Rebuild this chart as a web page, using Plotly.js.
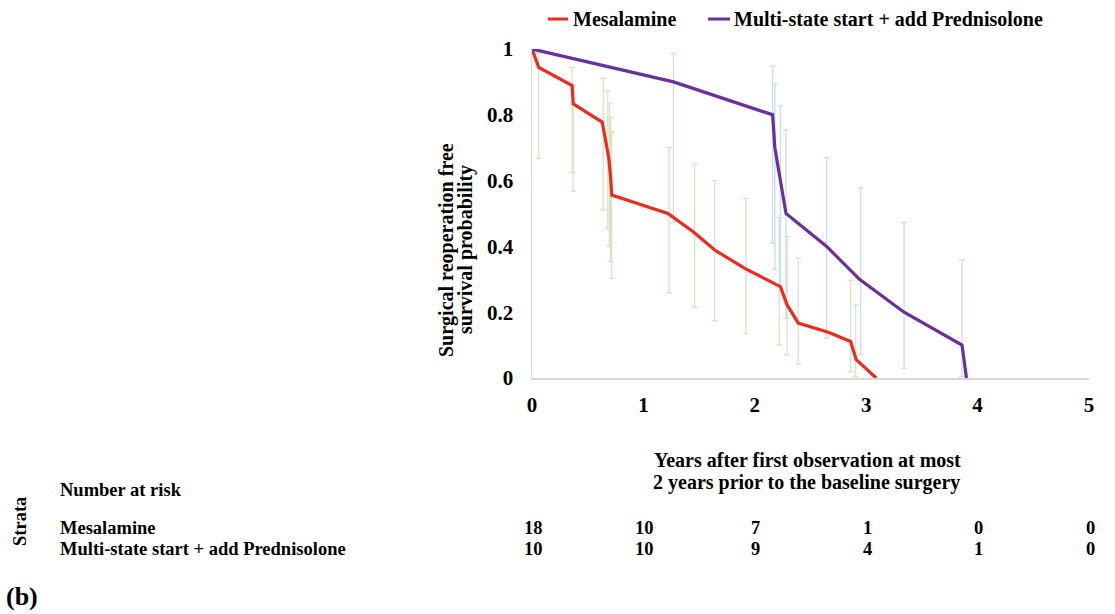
<!DOCTYPE html>
<html>
<head>
<meta charset="utf-8">
<script src="https://cdn.plot.ly/plotly-3.0.1.min.js"></script>
<style>html,body{margin:0;padding:0;background:#fff;}#chart{width:1115px;height:614px;}</style>
</head>
<body>
<div id="chart"></div>
<script>
// ---- Data ----
var seriesNames = ["Mesalamine", "Multi-state start + add Prednisolone"];

var mesX = [0, 0.06, 0.36, 0.37, 0.63, 0.69, 0.705, 0.716, 1.22, 1.45, 1.64, 1.91, 2.23, 2.29, 2.39, 2.66, 2.86, 2.91, 3.09];
var mesY = [1, 0.944, 0.889, 0.833, 0.778, 0.667, 0.611, 0.556, 0.5, 0.444, 0.389, 0.333, 0.278, 0.222, 0.167, 0.139, 0.111, 0.056, 0];

var preX = [0, 1.27, 2.16, 2.18, 2.28, 2.645, 2.94, 3.34, 3.86, 3.90];
var preY = [1, 0.9, 0.8, 0.7, 0.5, 0.4, 0.3, 0.2, 0.1, 0];

// confidence intervals
var mesCiX    = [0.06, 0.36, 0.37, 0.64, 0.68, 0.695, 0.705, 0.715, 1.23, 1.46, 1.64, 1.92, 2.22, 2.29, 2.39, 2.86, 2.905];
var mesCiLow  = [0.668, 0.625, 0.568, 0.511, 0.455, 0.402, 0.354, 0.303, 0.259, 0.215, 0.174, 0.134, 0.1, 0.07, 0.042, 0.019, 0.004];
var mesCiHigh = [0.987, 0.944, 0.89, 0.911, 0.873, 0.835, 0.792, 0.747, 0.701, 0.65, 0.6, 0.546, 0.488, 0.43, 0.364, 0.296, 0.222];

var preCiX    = [1.27, 2.16, 2.18, 2.23, 2.28, 2.645, 2.95, 3.34, 3.86];
var preCiLow  = [0.473, 0.409, 0.33, 0.252, 0.181, 0.121, 0.07, 0.029, 0.004];
var preCiHigh = [0.987, 0.948, 0.894, 0.827, 0.754, 0.67, 0.578, 0.473, 0.359];

var xTicks = [0, 1, 2, 3, 4, 5];
var yTicks = [0, 0.2, 0.4, 0.6, 0.8, 1];
var yTickText = ["0", "0.2", "0.4", "0.6", "0.8", "1"];

var riskTimes = [0, 1, 2, 3, 4, 5];
var riskMes = [18, 10, 7, 1, 0, 0];
var riskPre = [10, 10, 9, 4, 1, 0];

// ---- Styling ----
var RED = "#ec2a1e", PURPLE = "#6b2f9c", GREEN = "#d3e6c6", BLUE = "#c8dcf3";
var FONT = "'Liberation Serif','Times New Roman',Times,serif";

// plot area in px
var PL = 532, PR = 1089, PT = 49, PB = 378, W = 1115, H = 614;
function px(x) { return (x - PL) / (PR - PL); }
function py(y) { return (PB - y) / (PB - PT); }

function diff(a, b) { return a.map(function (v, i) { return v - b[i]; }); }
function zeros(a) { return a.map(function () { return 0; }); }

var traces = [
  {
    x: mesCiX, y: mesCiLow, type: "scatter", mode: "markers", showlegend: false, hoverinfo: "skip",
    marker: { color: "rgba(0,0,0,0)", size: 1 },
    error_y: { type: "data", symmetric: false, array: diff(mesCiHigh, mesCiLow), arrayminus: zeros(mesCiLow), color: GREEN, thickness: 1.3, width: 3 }
  },
  {
    x: preCiX, y: preCiLow, type: "scatter", mode: "markers", showlegend: false, hoverinfo: "skip",
    marker: { color: "rgba(0,0,0,0)", size: 1 },
    error_y: { type: "data", symmetric: false, array: diff(preCiHigh, preCiLow), arrayminus: zeros(preCiLow), color: BLUE, thickness: 1.3, width: 3 }
  },
  { x: mesX, y: mesY, type: "scatter", mode: "lines", name: seriesNames[0], line: { color: RED, width: 3.2 }, showlegend: false },
  { x: preX, y: preY, type: "scatter", mode: "lines", name: seriesNames[1], line: { color: PURPLE, width: 3.2 }, showlegend: false }
];

var annotations = [];
function ann(text, x, y, opts) {
  var a = Object.assign({
    text: text, x: px(x), y: py(y), xref: "paper", yref: "paper", showarrow: false,
    xanchor: "center", yanchor: "middle", font: { family: FONT, size: 20, color: "#000", weight: "bold" }
  }, opts || {});
  annotations.push(a);
}
// legend texts
ann("<b>" + seriesNames[0] + "</b>", 571, 19, { xanchor: "left" });
ann("<b>" + seriesNames[1] + "</b>", 732, 19, { xanchor: "left" });
// axis titles
ann("<b>Surgical reoperation free</b>", 447, 250, { textangle: -90 });
ann("<b>survival probability</b>", 466, 250, { textangle: -90 });
ann("<b>Years after first observation at most</b>", 807, 460);
ann("<b>2 years prior to the baseline surgery</b>", 806, 483);
// risk table
ann("<b>Number at risk</b>", 58, 490, { xanchor: "left", font: { family: FONT, size: 18.5, color: "#000" } });
ann("<b>Strata</b>", 20, 522, { textangle: -90, font: { family: FONT, size: 18.5, color: "#000" } });
ann("<b>" + seriesNames[0] + "</b>", 58, 528, { xanchor: "left", font: { family: FONT, size: 18.5, color: "#000" } });
ann("<b>" + seriesNames[1] + "</b>", 58, 549, { xanchor: "left", font: { family: FONT, size: 18.5, color: "#000" } });
for (var i = 0; i < riskTimes.length; i++) {
  annotations.push({ text: "<b>" + riskMes[i] + "</b>", x: riskTimes[i], xref: "x", y: py(528), yref: "paper", showarrow: false, xanchor: "center", yanchor: "middle", xshift: 1, font: { family: FONT, size: 18.5, color: "#000" } });
  annotations.push({ text: "<b>" + riskPre[i] + "</b>", x: riskTimes[i], xref: "x", y: py(549), yref: "paper", showarrow: false, xanchor: "center", yanchor: "middle", xshift: 1, font: { family: FONT, size: 18.5, color: "#000" } });
}
ann("<b>(b)</b>", 4, 596, { xanchor: "left", font: { family: FONT, size: 26, color: "#000" } });

var shapes = [
  { type: "line", xref: "paper", yref: "paper", x0: px(548), x1: px(568), y0: py(19), y1: py(19), line: { color: RED, width: 3 } },
  { type: "line", xref: "paper", yref: "paper", x0: px(708), x1: px(730), y0: py(19), y1: py(19), line: { color: PURPLE, width: 3 } }
];

var layout = {
  width: W, height: H,
  margin: { l: PL, r: W - PR, t: PT, b: H - PB, pad: 0 },
  paper_bgcolor: "#fff", plot_bgcolor: "#fff",
  showlegend: false,
  font: { family: FONT, color: "#000" },
  xaxis: {
    range: [0, 5], tickvals: xTicks, showgrid: false, zeroline: false,
    showline: true, linecolor: "#d9d9d9", linewidth: 1.5,
    ticks: "outside", ticklen: 7, tickcolor: "rgba(0,0,0,0)",
    tickfont: { family: FONT, size: 21, color: "#000", weight: "bold" }
  },
  yaxis: {
    range: [0, 1], tickvals: yTicks, ticktext: yTickText, showgrid: false, zeroline: false,
    showline: true, linecolor: "#d9d9d9", linewidth: 1.5,
    ticks: "outside", ticklen: 13, tickcolor: "rgba(0,0,0,0)",
    tickfont: { family: FONT, size: 21, color: "#000", weight: "bold" }
  },
  annotations: annotations,
  shapes: shapes
};

Plotly.newPlot("chart", traces, layout, { displayModeBar: false, staticPlot: true });
</script>
</body>
</html>
